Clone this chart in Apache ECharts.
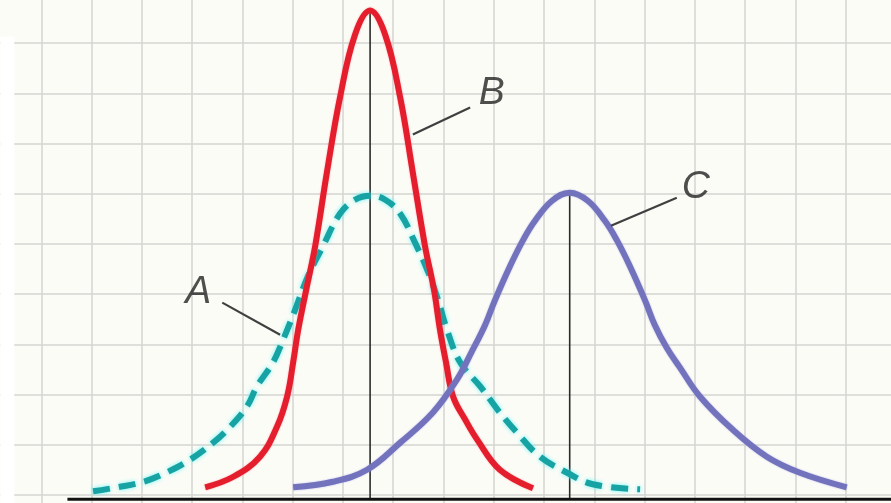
<!DOCTYPE html>
<html>
<head>
<meta charset="utf-8">
<script src="https://cdn.jsdelivr.net/npm/echarts@6/dist/echarts.min.js"></script>
<style>
  html, body { margin: 0; padding: 0; background: #fcfcf7; overflow: hidden; }
  #wrap { position: relative; width: 891px; height: 503px; overflow: hidden; }
  /* the plot area is a little larger than the page so the paper grid bleeds off every edge */
  #chart { position: absolute; left: -9.3px; top: -6.7px; width: 905.4px; height: 552.2px; }
</style>
</head>
<body>
<div id="wrap"><div id="chart"></div></div>
<script>
// Three bell curves on graph paper: A (dashed), B (tall, narrow), C (shifted right)
const curveA = [
  [1.03,0.07],[1.51,0.15],[2.03,0.26],[2.48,0.44],[2.96,0.70],[3.42,1.04],[3.76,1.36],
  [4.09,1.76],[4.29,2.16],[4.61,2.64],[4.81,3.09],[5.05,3.69],[5.31,4.37],[5.59,4.93],
  [5.94,5.60],[6.24,5.88],[6.54,5.96],[6.84,5.88],[7.14,5.60],[7.45,4.99],[7.69,4.45],
  [7.89,3.89],[8.07,3.29],[8.33,2.64],[8.73,2.16],[9.12,1.64],[9.46,1.24],[9.92,0.76],
  [10.46,0.44],[10.97,0.21],[11.91,0.11]
];
const curveB = [
  [3.26,0.15],[3.82,0.36],[4.35,0.76],[4.69,1.36],[4.89,1.96],[5.01,2.64],[5.11,3.29],
  [5.27,4.09],[5.45,4.97],[5.68,6.42],[5.94,7.91],[6.24,9.17],[6.54,9.65],[6.84,9.17],
  [7.14,7.91],[7.39,6.42],[7.63,4.97],[7.81,4.09],[7.93,3.29],[8.05,2.64],[8.19,1.96],
  [8.43,1.50],[8.67,1.10],[9.12,0.50],[9.78,0.13]
];
const curveC = [
  [5.01,0.15],[5.80,0.26],[6.48,0.50],[7.14,1.04],[7.79,1.64],[8.27,2.30],[8.55,2.83],
  [8.83,3.39],[9.02,3.87],[9.32,4.55],[9.58,5.07],[9.82,5.46],[10.16,5.86],[10.51,6.02],
  [10.87,5.86],[11.21,5.46],[11.45,5.07],[11.71,4.55],[12.01,3.87],[12.20,3.39],[12.44,2.93],
  [12.70,2.54],[13.10,1.96],[13.75,1.30],[14.43,0.76],[15.09,0.44],[16.02,0.15]
];
// Peaks marked by vertical drop lines
const peakB = [6.54, 9.65];
const peakC = [10.51, 6.02];
// Curve names with their label anchors and leader lines
const curveNames = ['A', 'B', 'C'];
const labelAnchors = [[3.12, 4.03], [8.96, 8.00], [13.02, 6.14]];
const leaders = [
  [[3.60, 3.83], [4.75, 3.19]],
  [[7.39, 7.18], [8.53, 7.72]],
  [[11.33, 5.36], [12.64, 5.92]]
];
const baseLine = [[0.52, -0.09], [17, -0.09]];

const chart = echarts.init(document.getElementById('chart'), null, { renderer: 'canvas' });

const gridLine = { show: true, lineStyle: { color: '#d4d4d0', width: 1.5 } };

const series = [
  {
    type: 'line', data: curveA, smooth: 0.4, symbol: 'none', z: 3,
    lineStyle: { color: '#17a2a4', width: 6, type: [17, 9], cap: 'butt',
      shadowBlur: 4, shadowColor: 'rgba(90,245,245,0.9)' }
  },
  {
    type: 'line', data: curveB, smooth: 0.4, symbol: 'none', z: 4,
    lineStyle: { color: '#e41e2c', width: 6, shadowBlur: 2, shadowColor: 'rgba(255,120,130,0.6)' }
  },
  {
    type: 'line', data: curveC, smooth: 0.4, symbol: 'none', z: 4,
    lineStyle: { color: '#7373bd', width: 6, shadowBlur: 2, shadowColor: 'rgba(150,150,230,0.6)' }
  },
  {
    type: 'line', data: [peakB, [peakB[0], -0.09]], symbol: 'none', z: 2,
    lineStyle: { color: '#2b2b2b', width: 1.6 }
  },
  {
    type: 'line', data: [peakC, [peakC[0], -0.09]], symbol: 'none', z: 2,
    lineStyle: { color: '#2b2b2b', width: 1.6 }
  },
  {
    type: 'line', data: baseLine, symbol: 'none', z: 5,
    lineStyle: { color: '#111111', width: 3 }
  }
];

leaders.forEach(function (seg) {
  series.push({
    type: 'line', data: seg, symbol: 'none', z: 5,
    lineStyle: { color: '#404040', width: 2.2 }
  });
});

series.push({
  type: 'scatter', symbolSize: 0, z: 6,
  data: curveNames.map(function (n, i) { return { name: n, value: labelAnchors[i] }; }),
  label: {
    show: true, position: 'inside', formatter: '{b}',
    fontFamily: 'Liberation Sans, Arial, sans-serif', fontStyle: 'italic',
    fontSize: 39, color: '#222222'
  }
});

chart.setOption({
  backgroundColor: '#fcfcf7',
  animation: false,
  grid: { left: 0, right: 0, top: 0, bottom: 0 },
  xAxis: {
    type: 'value', min: -1, max: 17, interval: 1,
    axisLine: { show: false }, axisTick: { show: false }, axisLabel: { show: false },
    splitLine: gridLine
  },
  yAxis: {
    type: 'value', min: -1, max: 10, interval: 1,
    axisLine: { show: false }, axisTick: { show: false }, axisLabel: { show: false },
    splitLine: gridLine
  },
  graphic: [
    { type: 'rect', left: 9.3, top: 43.7, shape: { width: 14, height: 470 },
      style: { fill: '#ffffff' }, z: 1 }
  ],
  series: series
});
</script>
</body>
</html>
